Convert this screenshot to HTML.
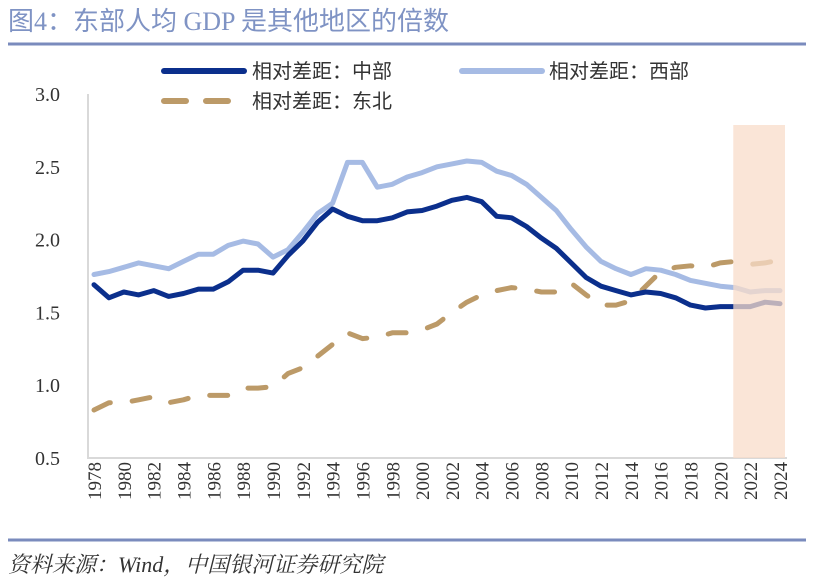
<!DOCTYPE html>
<html><head><meta charset="utf-8"><style>
body{margin:0;background:#fff;width:819px;height:580px;overflow:hidden;font-family:"Liberation Serif","Noto Serif CJK SC",serif}
</style></head><body>
<svg width="819" height="580" xmlns="http://www.w3.org/2000/svg">
<text x="8" y="30" font-size="26" fill="#7f93c4" font-family="Liberation Serif, Noto Sans CJK SC, sans-serif">图4：东部人均 GDP 是其他地区的倍数</text>
<line x1="8" y1="44" x2="806" y2="44" stroke="#7a8bbd" stroke-width="3"/>
<g id="legend" font-family="Liberation Sans, Noto Sans CJK SC, sans-serif" font-size="20" fill="#333">
<line x1="164" y1="71" x2="244" y2="71" stroke="#0b2f8c" stroke-width="6" stroke-linecap="round"/>
<text x="252" y="78">相对差距：中部</text>
<line x1="462" y1="71" x2="542" y2="71" stroke="#a6bbe4" stroke-width="6" stroke-linecap="round"/>
<text x="549" y="78">相对差距：西部</text>
<path d="M164 101H186M206 101H228" stroke="#bc9a68" stroke-width="6" stroke-linecap="round"/>
<text x="252" y="108">相对差距：东北</text>
</g>
<g id="plot"></g>
<line x1="8" y1="540" x2="806" y2="540" stroke="#7a8bbd" stroke-width="3"/>
<text x="8" y="572" font-size="22" fill="#333" font-style="italic" font-family="Liberation Serif, Noto Serif CJK SC, serif">资料来源：Wind，中国银河证券研究院</text>
</svg>
<script>
const years=[];for(let y=1978;y<=2024;y++)years.push(y);
const central=[1.69,1.60,1.64,1.62,1.65,1.61,1.63,1.66,1.66,1.71,1.79,1.79,1.77,1.89,1.99,2.12,2.21,2.16,2.13,2.13,2.15,2.19,2.20,2.23,2.27,2.29,2.26,2.16,2.15,2.09,2.01,1.94,1.84,1.74,1.68,1.65,1.62,1.64,1.63,1.60,1.55,1.53,1.54,1.54,1.54,1.57,1.56];
const west=[1.76,1.78,1.81,1.84,1.82,1.80,1.85,1.90,1.90,1.96,1.99,1.97,1.88,1.93,2.05,2.18,2.25,2.53,2.53,2.36,2.38,2.43,2.46,2.50,2.52,2.54,2.53,2.47,2.44,2.38,2.29,2.20,2.07,1.95,1.85,1.80,1.76,1.80,1.79,1.76,1.72,1.70,1.68,1.67,1.64,1.65,1.65];
const northeast=[0.83,0.88,0.88,0.90,0.92,0.88,0.90,0.93,0.93,0.93,0.98,0.98,0.99,1.08,1.12,1.20,1.28,1.36,1.32,1.33,1.36,1.36,1.38,1.42,1.50,1.57,1.62,1.65,1.67,1.66,1.64,1.64,1.70,1.62,1.55,1.55,1.58,1.68,1.78,1.81,1.82,1.81,1.84,1.85,1.83,1.84,1.86];
const yTicks=[0.5,1.0,1.5,2.0,2.5,3.0];
const shadeStart=2021;
const NS="http://www.w3.org/2000/svg";
const g=document.getElementById('plot');
const X=y=>94+(y-1978)*(686/46);
const Y=v=>458-(v-0.5)*(364/2.5);
function mk(t,a){const e=document.createElementNS(NS,t);for(const k in a)e.setAttribute(k,a[k]);g.appendChild(e);return e;}
yTicks.forEach(v=>{const t=mk('text',{x:60,y:Y(v)+7,'text-anchor':'end','font-size':20,fill:'#333'});t.textContent=v.toFixed(1);

});
const ax=mk('line',{x1:88,y1:94,x2:88,y2:459,stroke:'#d9d9d9','stroke-width':2});


const bx=mk('line',{x1:87,y1:458,x2:787,y2:458,stroke:'#d9d9d9','stroke-width':2});


years.forEach(y=>{if((y-1978)%2)return;const t=mk('text',{transform:`translate(${X(y)+7},462) rotate(-90)`,'text-anchor':'end','font-size':19,fill:'#333'});t.textContent=y;

});
function line(arr,color,name,dash){const d=arr.map((v,i)=>(i?'L':'M')+X(years[i]).toFixed(1)+' '+Y(v).toFixed(1)).join('');
const p=mk('path',{d:d,fill:'none',stroke:color,'stroke-width':5,'stroke-linejoin':'round','stroke-linecap':'round'});if(dash)p.setAttribute('stroke-dasharray',dash);

}
line(northeast,'#bc9a68','series-northeast','18 22');
line(west,'#a6bbe4','series-west');
line(central,'#0b2f8c','series-central');
const sh=mk('rect',{x:X(shadeStart)-2,y:125,width:X(2024)-X(shadeStart)+7,height:333,fill:'#f8dcc9','fill-opacity':0.75});


</script>
</body></html>
